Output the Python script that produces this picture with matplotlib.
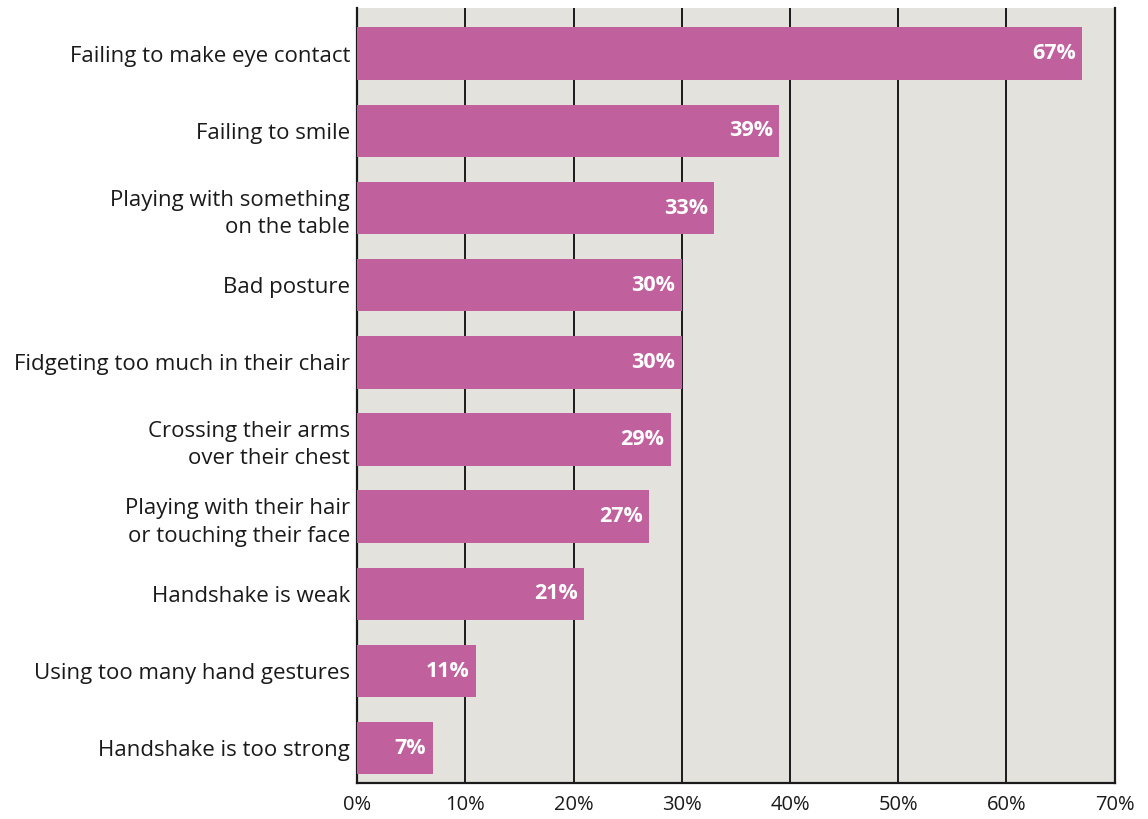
import matplotlib
matplotlib.use("Agg")
import matplotlib.pyplot as plt
from matplotlib.ticker import FuncFormatter

categories = [
    "Failing to make eye contact",
    "Failing to smile",
    "Playing with something\non the table",
    "Bad posture",
    "Fidgeting too much in their chair",
    "Crossing their arms\nover their chest",
    "Playing with their hair\nor touching their face",
    "Handshake is weak",
    "Using too many hand gestures",
    "Handshake is too strong",
]
values = [67, 39, 33, 30, 30, 29, 27, 21, 11, 7]
x_ticks = [0, 10, 20, 30, 40, 50, 60, 70]

BAR = "#c0609c"
BG = "#e4e2dc"
FONT = "Open Sans"

fig = plt.figure(figsize=(11.48, 8.19), dpi=100)
fig.patch.set_facecolor("white")
ax = fig.add_axes([0.311, 0.044, 0.660, 0.946])
ax.set_facecolor(BG)

ypos = list(range(len(categories)))
ax.barh(ypos, values, height=0.68, color=BAR, zorder=3)

for y, v in zip(ypos, values):
    ax.text(v - 0.6, y, f"{v}%", ha="right", va="center", color="white",
            fontsize=15.5, fontweight="bold", family=FONT, zorder=4)

ax.set_xlim(0, 70)
ax.set_ylim(9.45, -0.59)
ax.set_yticks(ypos)
ax.set_yticklabels(categories, fontsize=16, family=FONT, color="#1a1a1a",
                   linespacing=1.4)
ax.set_xticks(x_ticks)
ax.xaxis.set_major_formatter(FuncFormatter(lambda v, p: f"{int(v)}%"))
for lbl in ax.get_xticklabels():
    lbl.set_family(FONT)
    lbl.set_fontsize(14.5)
    lbl.set_color("#1a1a1a")
ax.tick_params(axis="both", length=0)
ax.tick_params(axis="y", pad=5)
ax.tick_params(axis="x", pad=9)

ax.grid(axis="x", color="#1a1a1a", linewidth=1.4, zorder=1)
ax.set_axisbelow(True)
for s in ["left", "bottom", "right"]:
    ax.spines[s].set_color("#1a1a1a")
    ax.spines[s].set_linewidth(1.6)
ax.spines["top"].set_visible(False)

fig.savefig("out.png", dpi=100, facecolor="white")
